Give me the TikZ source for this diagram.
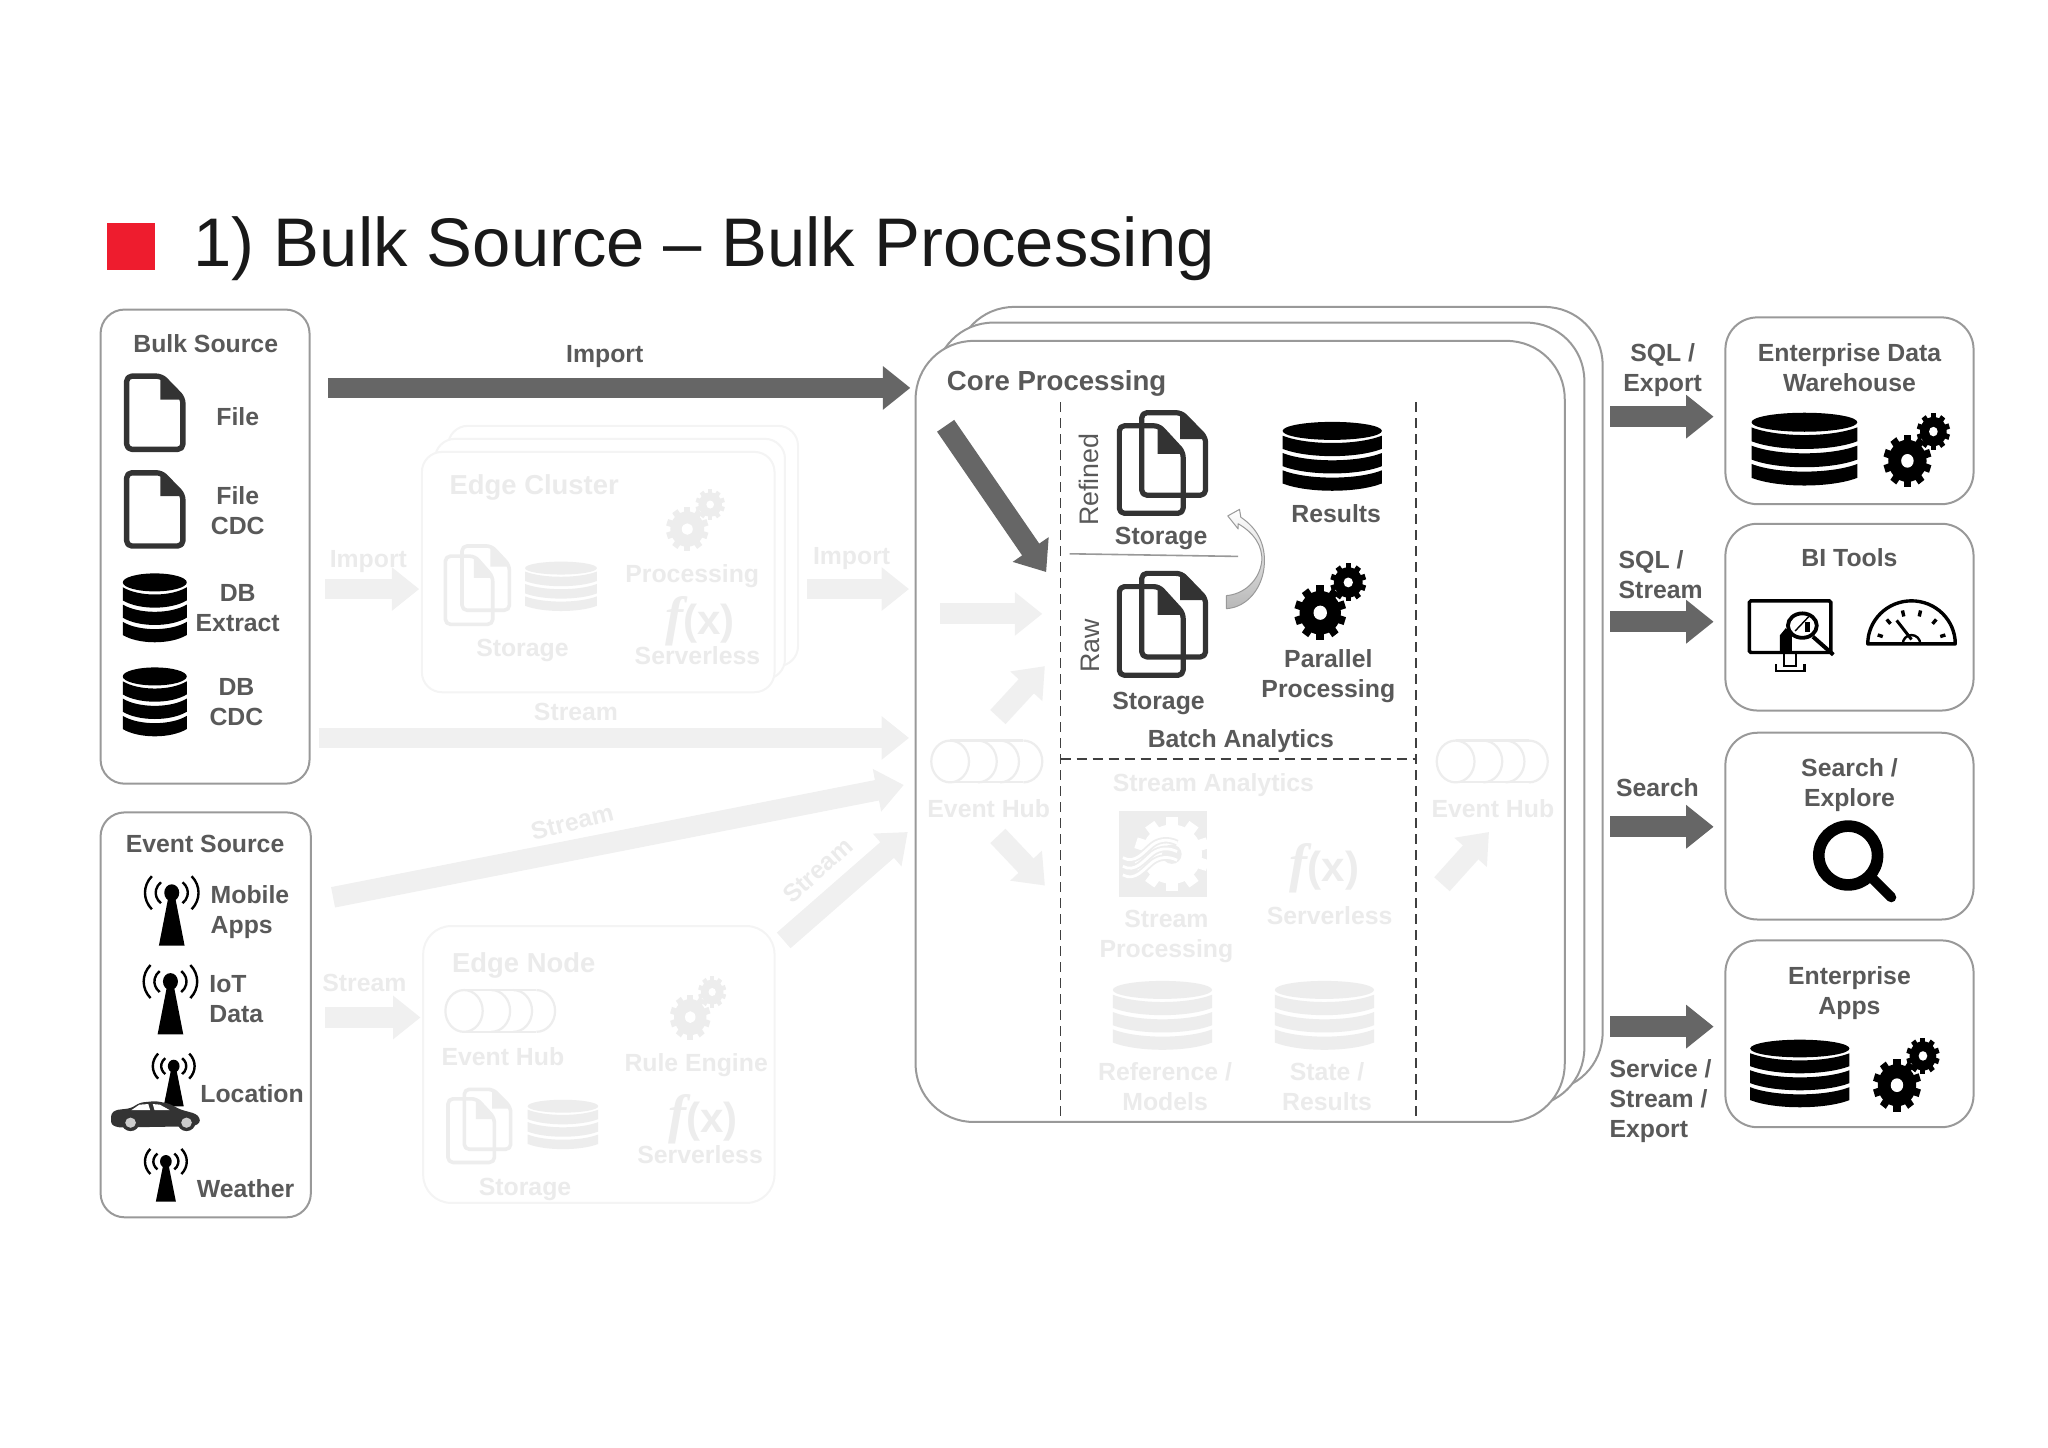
\documentclass[tikz,border=0pt]{standalone}
\usepackage{fontspec}
\setmainfont{Liberation Sans}
\setsansfont{Liberation Sans}
\newfontfamily\fxfont{Liberation Serif}
\usetikzlibrary{arrows.meta,fit}
\definecolor{labelgray}{HTML}{595959}
\definecolor{fadetext}{HTML}{EBEBEB}
\definecolor{fadeicon}{HTML}{EDEDED}
\definecolor{fadeline}{HTML}{F4F4F4}
\definecolor{arrowdark}{HTML}{666666}
\definecolor{arrowfade}{HTML}{F0F0F0}
\definecolor{iconfile}{HTML}{333333}
\definecolor{panelline}{HTML}{999999}
\definecolor{titlered}{HTML}{EE1C2E}
\tikzset{
  panel/.style={draw=panelline,line width=1pt,fill=white,inner sep=0pt,rounded corners=#1},
  panel/.default=16pt,
  fadepanel/.style={panel=#1,draw=fadeline},
  lbl/.style={font=\bfseries\fontsize{12.4}{15}\selectfont,text=labelgray,align=center,inner sep=0pt,yshift=-1.5pt},
  fadelbl/.style={lbl,text=fadetext},
  fatarrow/.style={draw=#1,line width=10.4pt,-{Triangle[length=13.7pt,width=20.9pt,fill=#1]}},
  fatarrow/.default=arrowdark,
  fadearrow/.style={fatarrow=arrowfade}
}
% icons, all drawn in a unit box: x y width height colour
\newcommand{\dbicon}[5]{
  \begin{scope}[shift={(#1,#2)},xscale=#3,yscale=#4]
    \fill[#5] (.5,.13) ellipse [x radius=.5,y radius=.13];
    \foreach \a in {.2,.45,.7}
      \fill[#5] (0,\a) .. controls (.25,\a+.14) and (.75,\a+.14) .. (1,\a) -- (1,\a+.19)
        .. controls (.75,\a+.33) and (.25,\a+.33) .. (0,\a+.19) -- cycle;
  \end{scope}
}
\newcommand{\onegear}[5]{
  \fill[#4] (#1,#2) circle [radius=.8*#3];
  \foreach \t in {0,36,...,324}
    \fill[#4,rotate around={\t:(#1,#2)}] (#1-.15*#3,#2-#3) rectangle (#1+.15*#3,#2-.6*#3);
  \fill[#5] (#1,#2) circle [radius=.26*#3];
}
\newcommand{\gearicon}[5]{
  \begin{scope}[shift={(#1,#2)},xscale=#3,yscale=#4]
    \onegear{.36}{.64}{.36}{#5}{white}
    \onegear{.75}{.24}{.25}{#5}{white}
  \end{scope}
}
\newcommand{\fileicon}[6]{
  \begin{scope}[shift={(#1,#2)},xscale=#3,yscale=#4]
    \draw[#5,line width=#6,rounded corners=2.5pt,line join=round] (0,0) -- (.62,0) -- (1,.3) -- (1,1) -- (0,1) -- cycle;
    \fill[#5] (.6,0) -- (1,.32) -- (.6,.32) -- cycle;
  \end{scope}
}
\newcommand{\stackicon}[6]{
  \begin{scope}[shift={(#1,#2)},xscale=#3,yscale=#4]
    \fileicon{.26}{0}{.74}{.82}{#5}{#6}
    \fileicon{0}{.13}{.74}{.87}{#5}{#6}
  \end{scope}
}
\newcommand{\antennaicon}[4]{
  \begin{scope}[shift={(#1,#2)},xscale=#3,yscale=#4]
    \fill (.5,.25) ellipse [x radius=.14,y radius=.12];
    \fill (.44,.3) -- (.56,.3) -- (.74,1) -- (.26,1) -- cycle;
    \foreach \m in {0,180} {
      \draw[line width=1.2pt] (.5,.25) ++({\m-48}:.3 and .2) arc [start angle=\m-48,end angle=\m+48,x radius=.3,y radius=.2];
      \draw[line width=1.2pt] (.5,.25) ++({\m-42}:.5 and .35) arc [start angle=\m-42,end angle=\m+42,x radius=.5,y radius=.35];
    }
  \end{scope}
}
\newcommand{\hubicon}[5]{
  \begin{scope}[shift={(#1,#2)},xscale=#3,yscale=#4]
    \draw[#5,line width=1.1pt] (.17,.5) ellipse [x radius=.17,y radius=.5];
    \draw[#5,line width=1.1pt] (.17,0) -- (.83,0) (.17,1) -- (.83,1);
    \foreach \c in {.42,.62,.83}
      \draw[#5,line width=1.1pt] (\c,0) arc [start angle=-90,end angle=90,x radius=.17,y radius=.5];
  \end{scope}
}
\newcommand{\fxlabel}[3]{
  \node (#1) at (#2,#3) [text=fadeicon,inner sep=0pt,font=\bfseries\fontsize{27}{27}\selectfont] {{\fxfont\itshape f}{\fontsize{21}{21}\selectfont(x)}};
}
\begin{document}
\begin{tikzpicture}[x=0.653pt,y=-0.653pt]
\useasboundingbox (0,0) rectangle (1568,1108);

% title
\fill[titlered] (82,171) rectangle (119,207);
\node (title) at (148,204) [anchor=base west,inner sep=0pt,text=black!90,font=\fontsize{34.4}{40}\selectfont] {1) Bulk Source -- Bulk Processing};

% edge cluster (faded)
\node (edgeback) [fadepanel=10pt,fit={(343,326) (611,510)}] {};
\node (edgemid) [fadepanel=10pt,fit={(333,336) (601,520)}] {};
\node (edgefront) [fadepanel=10pt,fit={(323,346) (593,530)}] {};
\node (edgetitle) at (409,371) [fadelbl,font=\bfseries\fontsize{13.7}{16}\selectfont] {Edge Cluster};
\stackicon{341}{418}{49}{60}{fadeicon}{1.8pt}
\dbicon{402}{430}{55}{38}{fadeicon}
\node (edgestore) at (400,496) [fadelbl] {Storage};
\gearicon{510}{375}{45}{47}{fadeicon}
\node (edgeproc) at (530,439) [fadelbl] {Processing};
\fxlabel{edgefx}{536}{476}
\node (edgeless) at (534,500) [fadelbl] {Serverless};
\node (impa) at (282,428) [fadelbl] {Import};
\node (impb) at (652,425) [fadelbl] {Import};
\coordinate (impa1) at (249,451); \coordinate (impa2) at (321,451);
\coordinate (impb1) at (618,451); \coordinate (impb2) at (696,451);
\draw[fadearrow] (impa1) -- (impa2);
\draw[fadearrow] (impb1) -- (impb2);

% streams (faded)
\node (strlong) at (441,543) [fadelbl] {Stream};
\coordinate (stra1) at (244,565); \coordinate (stra2) at (696,565);
\draw[fadearrow] (stra1) -- (stra2);
\node (strdiag) at (438,627) [fadelbl,rotate=14] {Stream};
\coordinate (strb1) at (255,687); \coordinate (strb2) at (692,601);
\draw[fadearrow] (strb1) -- (strb2);
\node (strup) at (626,664) [fadelbl,rotate=42] {Stream};
\coordinate (strc1) at (600,720); \coordinate (strc2) at (695,637);
\draw[fadearrow] (strc1) -- (strc2);
\node (strnode) at (279,750) [fadelbl] {Stream};
\coordinate (strd1) at (249,779); \coordinate (strd2) at (322,779);
\draw[fadearrow] (strd1) -- (strd2);

% edge node (faded)
\node (nodebox) [fadepanel=14pt,fit={(324,709) (593,921)}] {};
\node (nodetitle) at (401,737) [fadelbl,font=\bfseries\fontsize{13.7}{16}\selectfont] {Edge Node};
\hubicon{341}{758}{84}{32}{fadeicon}
\node (nodehub) at (385,807) [fadelbl] {Event Hub};
\gearicon{513}{748}{43}{48}{fadeicon}
\node (noderule) at (533,813) [fadelbl] {Rule Engine};
\stackicon{343}{834}{48}{56}{fadeicon}{1.8pt}
\dbicon{404}{842}{54}{38}{fadeicon}
\node (nodestore) at (402,908) [fadelbl] {Storage};
\fxlabel{nodefx}{538}{857}
\node (nodeless) at (536,882) [fadelbl] {Serverless};

% bulk source
\node (bulkbox) [panel=12pt,fit={(77,237) (237,600)}] {};
\node (bulktitle) at (157.5,261) [lbl] {Bulk Source};
\fileicon{97}{288}{43}{56}{iconfile}{2.7pt}
\node (bulkfile) at (182,317) [lbl] {File};
\fileicon{97}{362}{43}{56}{iconfile}{2.7pt}
\node (bulkcdc) at (182,389) [lbl] {File\\CDC};
\dbicon{94}{439}{49}{53}{black}
\node (bulkext) at (182,463) [lbl] {DB\\Extract};
\dbicon{94}{511}{49}{53}{black}
\node (bulkdb) at (181,535) [lbl] {DB\\CDC};

% event source
\node (eventbox) [panel=12pt,fit={(77,622) (238,932)}] {};
\node (eventtitle) at (157,644) [lbl] {Event Source};
\antennaicon{111}{670}{41}{54}
\node (evmobile) at (161,696) [lbl,anchor=west,align=left] {Mobile\\Apps};
\antennaicon{110}{738}{41}{54}
\node (eviot) at (160,763) [lbl,anchor=west,align=left] {IoT\\Data};
\antennaicon{117}{806}{32}{41}
\node (evloc) at (193,835) [lbl] {Location};
\antennaicon{111}{879}{32}{41}
\node (evwea) at (188,908) [lbl] {Weather};
% car
\begin{scope}[shift={(85,843)},xscale=68,yscale=23]
  \fill[iconfile,rounded corners=1.5pt] (0,.42) -- (.05,.3) -- (.22,.24) -- (.33,.05) -- (.5,0) -- (.65,.08) -- (.78,.28) -- (.95,.42) -- (1,.55) -- (1,.74) -- (.92,.84) -- (.08,.88) -- (0,.78) -- cycle;
  \fill[white] (.23,.3) -- (.32,.12) -- (.42,.1) -- (.44,.3) -- cycle;
  \fill[white] (.47,.1) -- (.55,.12) -- (.66,.3) -- (.49,.3) -- cycle;
  \foreach \w in {.22,.85} {
    \fill[iconfile] (\w,.72) ellipse [x radius=.1,y radius=.28];
    \fill[white!80!black] (\w,.72) ellipse [x radius=.06,y radius=.17];
  }
\end{scope}

% import
\node (implbl) at (463,271) [lbl] {Import};
\coordinate (imp1) at (251,297); \coordinate (imp2) at (697,297);
\draw[fatarrow] (imp1) -- (imp2);

% core processing
\node (coreback) [panel=29pt,fit={(732,235) (1227,835)}] {};
\node (coremid) [panel=29pt,fit={(716,247) (1213,847)}] {};
\node (corebox) [panel=29pt,fit={(701,261) (1198,859)}] {};
\node (coretitle) at (809,291) [lbl,font=\bfseries\fontsize{13.8}{17}\selectfont] {Core Processing};
\draw[black!75,dashed,line width=.8pt,dash pattern=on 5pt off 3pt] (812,308) -- (812,859);
\draw[black!75,dashed,line width=.8pt,dash pattern=on 5pt off 3pt] (1084,308) -- (1084,859);
\draw[black!75,dashed,line width=.8pt,dash pattern=on 5pt off 3pt] (812,581) -- (1084,581);
\coordinate (in1) at (724,326); \coordinate (in2) at (801,438);
\draw[fatarrow] (in1) -- (in2);
\coordinate (ina1) at (720,470); \coordinate (ina2) at (798,470);
\draw[fadearrow] (ina1) -- (ina2);
\coordinate (inb1) at (764,549); \coordinate (inb2) at (800,510);
\draw[fadearrow] (inb1) -- (inb2);
\coordinate (inc1) at (764,640); \coordinate (inc2) at (800,678);
\draw[fadearrow] (inc1) -- (inc2);
\coordinate (out1) at (1104,677); \coordinate (out2) at (1140,637);
\draw[fadearrow] (out1) -- (out2);
\hubicon{713}{567}{85}{32}{fadeicon}
\node (hubl) at (757,617) [fadelbl] {Event Hub};
\hubicon{1100}{567}{85}{32}{fadeicon}
\node (hubr) at (1143,617) [fadelbl] {Event Hub};

% batch analytics
\node (refined) at (834,365) [lbl,rotate=90,font=\fontsize{13.4}{16}\selectfont] {Refined};
\stackicon{857}{316}{66}{77}{iconfile}{2.6pt}
\node (storeref) at (889,410) [lbl] {Storage};
\draw[panelline,line width=.8pt] (819,424) -- (948,426);
\node (raw) at (835,492) [lbl,rotate=90,font=\fontsize{13.4}{16}\selectfont] {Raw};
\stackicon{857}{439}{66}{78}{iconfile}{2.6pt}
\node (storeraw) at (887,536) [lbl] {Storage};
\dbicon{982}{323}{76}{53}{black}
\node (results) at (1023,391) [lbl] {Results};
\gearicon{991}{432}{55}{58}{black}
\node (parallel) at (1017,515) [lbl] {Parallel\\Processing};
\node (batch) at (950,565) [lbl] {Batch Analytics};
\draw[panelline,line width=.5pt,top color=white,bottom color=black!28,line join=round]
  (940,395) -- (949,390) -- (950,396) .. controls (962,404) and (969,416) .. (968,432)
  .. controls (967,450) and (955,465) .. (939,466) -- (939,456) .. controls (952,455) and (964,445) .. (966,430)
  .. controls (967,418) and (960,408) .. (948,401) -- (948,405) -- cycle;

% stream analytics (faded)
\node (stream) at (929,599) [fadelbl] {Stream Analytics};
\begin{scope}[shift={(857,621)},xscale=67,yscale=66]
  \fill[fadeicon] (0,0) rectangle (1,1);
  \onegear{.6}{.5}{.43}{white}{fadeicon}
  \foreach \v in {.42,.52,.62} {
    \draw[fadeicon,line width=3.2pt] (.04,\v+.12) .. controls (.18,\v+.2) and (.28,\v+.05) .. (.38,\v-.03) .. controls (.46,\v-.09) and (.56,\v-.1) .. (.66,\v-.05);
    \draw[white,line width=1.4pt] (.04,\v+.12) .. controls (.18,\v+.2) and (.28,\v+.05) .. (.38,\v-.03) .. controls (.46,\v-.09) and (.56,\v-.1) .. (.66,\v-.05);
  }
\end{scope}
\node (streamproc) at (893,715) [fadelbl] {Stream\\Processing};
\fxlabel{streamfx}{1014}{665}
\node (streamless) at (1018,699) [fadelbl] {Serverless};
\dbicon{852}{751}{76}{53}{fadeicon}
\node (refmodel) at (892,830) [fadelbl] {Reference /\\Models};
\dbicon{976}{751}{76}{53}{fadeicon}
\node (state) at (1016,830) [fadelbl] {State /\\Results};

% consumers
\node (edwbox) [panel,fit={(1321,243) (1511,386)}] {};
\node (edw) at (1416,279) [lbl] {Enterprise Data\\Warehouse};
\dbicon{1341}{316}{81}{56}{black}
\gearicon{1442}{317}{51}{56}{black}
\coordinate (edw1) at (1233,319); \coordinate (edw2) at (1312,319);
\draw[fatarrow] (edw1) -- (edw2);
\node (edwlbl) at (1273,281) [lbl] {SQL /\\Export};

\node (bibox) [panel,fit={(1321,401) (1511,544)}] {};
\node (bi) at (1416,425) [lbl] {BI Tools};
\coordinate (bi1) at (1233,476); \coordinate (bi2) at (1312,476);
\draw[fatarrow] (bi1) -- (bi2);
\node (bilbl) at (1239,438) [lbl,anchor=west,align=left] {SQL /\\Stream};
% monitor
\begin{scope}[shift={(1338,460)},xscale=65,yscale=55]
  \draw[black,line width=1.7pt,rounded corners=.8pt] (.02,0) rectangle (.98,.72);
  \draw[black,line width=1.1pt] (.43,.72) -- (.43,.91) -- (.57,.91) -- (.57,.72);
  \draw[black,line width=1.1pt] (.33,.88) -- (.33,.98) -- (.67,.98) -- (.67,.88);
  \fill[black] (.38,.7) -- (.38,.48) -- (.45,.38) -- (.52,.48) -- (.52,.7) -- cycle;
  \fill[white] (.645,.345) circle [radius=.17];
  \draw[black,line width=1.9pt] (.645,.345) circle [radius=.17];
  \draw[black,line width=2pt] (.77,.5) -- (1.01,.75);
  \fill[black] (.68,.3) rectangle (.74,.44);
  \draw[black,line width=.7pt] (.56,.42) -- (.64,.32) -- (.72,.22);
\end{scope}
% gauge
\begin{scope}[shift={(1430,459)},xscale=67,yscale=34]
  \draw[black,line width=1.7pt,line join=round] (0,1) arc [start angle=180,end angle=360,x radius=.5,y radius=.97] -- cycle;
  \foreach \a in {195,225,255,285,315,345}
    \draw[black,line width=1.7pt] ({.5+.4*cos(\a)},{1+.78*sin(\a)}) -- ({.5+.34*cos(\a)},{1+.64*sin(\a)});
  \draw[black,line width=1.5pt] (.5,.9) -- (.33,.47);
  \draw[black,line width=1.2pt] (.4,1) arc [start angle=180,end angle=360,x radius=.1,y radius=.2];
\end{scope}

\node (searchbox) [panel,fit={(1321,561) (1511,704)}] {};
\node (search) at (1416,599) [lbl] {Search /\\Explore};
\coordinate (sea1) at (1233,633); \coordinate (sea2) at (1312,633);
\draw[fatarrow] (sea1) -- (sea2);
\node (sealbl) at (1269,601) [lbl] {Search};
\draw[black,line width=5.8pt] (1415,655) circle [radius=22.5];
\draw[black,line width=5pt,line cap=round] (1433,672) -- (1448,687);

\node (appbox) [panel,fit={(1321,720) (1511,863)}] {};
\node (apps) at (1416,758) [lbl] {Enterprise\\Apps};
\dbicon{1340}{796}{76}{52}{black}
\gearicon{1434}{795}{51}{56}{black}
\coordinate (app1) at (1233,786); \coordinate (app2) at (1312,786);
\draw[fatarrow] (app1) -- (app2);
\node (applbl) at (1232,841) [lbl,anchor=west,align=left] {Service /\\Stream /\\Export};
\end{tikzpicture}
\end{document}
